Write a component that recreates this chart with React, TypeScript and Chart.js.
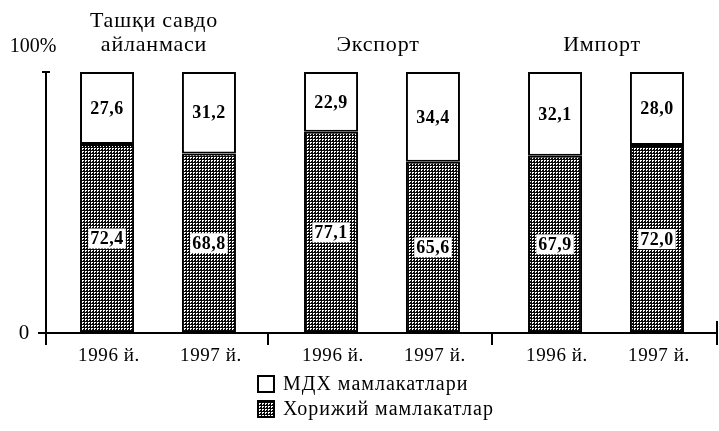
import React, { useEffect, useRef } from 'react';
import { Chart, registerables } from 'chart.js';

Chart.register(...registerables);

const groups = ['Ташқи савдо айланмаси', 'Экспорт', 'Импорт'];
const groupTitleLines = [['Ташқи савдо', 'айланмаси'], ['Экспорт'], ['Импорт']];
const years = ['1996 й.', '1997 й.'];
const foreign1996 = [72.4, 77.1, 67.9];
const cis1996 = [27.6, 22.9, 32.1];
const foreign1997 = [68.8, 65.6, 72.0];
const cis1997 = [31.2, 34.4, 28.0];
const seriesNames = ['МДХ мамлакатлари', 'Хорижий мамлакатлар'];
const yTickLabels = ['0', '100%'];

const SERIF = '"Liberation Serif", "Times New Roman", serif';

function makePattern(): CanvasPattern | string {
  const c = document.createElement('canvas');
  c.width = 3;
  c.height = 3;
  const g = c.getContext('2d');
  if (!g) return '#555';
  g.fillStyle = '#0a0a0a';
  g.fillRect(0, 0, 3, 3);
  g.fillStyle = '#fff';
  g.fillRect(1, 1, 2, 1);
  g.fillRect(1, 2, 1, 1);
  return g.createPattern(c, 'repeat') || '#555';
}

const fmt = (v: number) => v.toFixed(1).replace('.', ',');

function setSpacing(ctx: any, px: number) {
  if ('letterSpacing' in ctx) ctx.letterSpacing = `${px}px`;
}

const overlay = {
  id: 'overlay',
  afterDatasetsDraw(chart: any) {
    const ctx: CanvasRenderingContext2D = chart.ctx;
    const { left, right } = chart.chartArea;
    const xs = chart.scales.x;
    const ys = chart.scales.y;
    const y0 = ys.getPixelForValue(0);
    const y100 = ys.getPixelForValue(100);
    ctx.save();

    // axes
    ctx.strokeStyle = '#000';
    ctx.lineWidth = 2;
    ctx.beginPath();
    ctx.moveTo(left, y100);
    ctx.lineTo(left, y0 + 12);
    ctx.moveTo(left - 4, y100);
    ctx.lineTo(left + 4, y100);
    ctx.moveTo(left - 8, y0);
    ctx.lineTo(right, y0);
    for (let i = 0; i < groups.length - 1; i++) {
      const mx = (xs.getPixelForValue(i) + xs.getPixelForValue(i + 1)) / 2 - 2;
      ctx.moveTo(mx, y0);
      ctx.lineTo(mx, y0 + 12);
    }
    ctx.moveTo(right - 1, y0 - 12);
    ctx.lineTo(right - 1, y0 + 12);
    ctx.stroke();

    // y labels
    ctx.fillStyle = '#000';
    ctx.textAlign = 'center';
    ctx.textBaseline = 'middle';
    setSpacing(ctx, 0);
    ctx.font = `21px ${SERIF}`;
    ctx.fillText(yTickLabels[0], left - 22, y0);
    ctx.font = `20px ${SERIF}`;
    ctx.fillText(yTickLabels[1], left - 13, y100 - 25);

    // group titles
    ctx.font = `22px ${SERIF}`;
    setSpacing(ctx, 0.8);
    groupTitleLines.forEach((lines, i) => {
      const cx = xs.getPixelForValue(i);
      lines.forEach((ln, k) => {
        const yy = y100 - 27 - (lines.length - 1 - k) * 24;
        ctx.fillText(ln, cx - 4, yy);
      });
    });

    // value labels
    setSpacing(ctx, 0.5);
    chart.data.datasets.forEach((ds: any, d: number) => {
      const meta = chart.getDatasetMeta(d);
      const isForeign = d % 2 === 0;
      meta.data.forEach((el: any, i: number) => {
        const p = el.getProps(['x', 'y', 'base'], true);
        const cy = (p.y + p.base) / 2;
        const txt = fmt(ds.data[i]);
        ctx.font = `bold 18px ${SERIF}`;
        const w = ctx.measureText(txt).width;
        if (isForeign) {
          ctx.fillStyle = '#fff';
          ctx.fillRect(p.x - w / 2 - 2, cy - 10, w + 4, 20);
        }
        ctx.fillStyle = '#000';
        ctx.fillText(txt, p.x, cy + 1);
      });
    });

    // year labels
    ctx.font = `19px ${SERIF}`;
    setSpacing(ctx, 0.6);
    [0, 2].forEach((d, k) => {
      const meta = chart.getDatasetMeta(d);
      meta.data.forEach((el: any) => {
        ctx.fillText(years[k], el.x + 2, y0 + 23);
      });
    });

    // legend
    const fills = [chart.data.datasets[1].backgroundColor, chart.data.datasets[0].backgroundColor];
    ctx.textAlign = 'left';
    setSpacing(ctx, 1);
    seriesNames.forEach((name, k) => {
      const by = 375 + k * 25;
      ctx.fillStyle = fills[k];
      ctx.fillRect(257, by, 18, 18);
      ctx.lineWidth = 2;
      ctx.strokeStyle = '#000';
      ctx.strokeRect(258, by + 1, 16, 16);
      ctx.fillStyle = '#000';
      ctx.font = `20px ${SERIF}`;
      ctx.fillText(name, 283, by + 10);
    });

    ctx.restore();
  },
};

export default function App() {
  const ref = useRef<HTMLCanvasElement>(null);

  useEffect(() => {
    if (!ref.current) return;
    const pattern = makePattern();
    const common = {
      borderColor: '#000',
      borderWidth: 2,
      borderSkipped: false as const,
      categoryPercentage: 0.91,
      barPercentage: 0.53,
    };
    const chart = new Chart(ref.current, {
      type: 'bar',
      data: {
        labels: groups,
        datasets: [
          { ...common, label: seriesNames[1] + ' 1996', data: foreign1996, stack: 's1996', backgroundColor: pattern as any },
          { ...common, label: seriesNames[0] + ' 1996', data: cis1996, stack: 's1996', backgroundColor: '#fff' },
          { ...common, label: seriesNames[1] + ' 1997', data: foreign1997, stack: 's1997', backgroundColor: pattern as any },
          { ...common, label: seriesNames[0] + ' 1997', data: cis1997, stack: 's1997', backgroundColor: '#fff' },
        ],
      },
      options: {
        responsive: false,
        animation: false,
        layout: { padding: { left: 46, right: 1, top: 72, bottom: 98 } },
        plugins: { legend: { display: false }, tooltip: { enabled: false } },
        scales: {
          x: { display: false, stacked: true },
          y: { display: false, stacked: true, min: 0, max: 100 },
        },
      },
      plugins: [overlay],
    });
    return () => chart.destroy();
  }, []);

  return (
    <canvas
      ref={ref}
      width={719}
      height={431}
      style={{ position: 'absolute', left: 0, top: 0, display: 'block', background: '#fff' }}
    />
  );
}
